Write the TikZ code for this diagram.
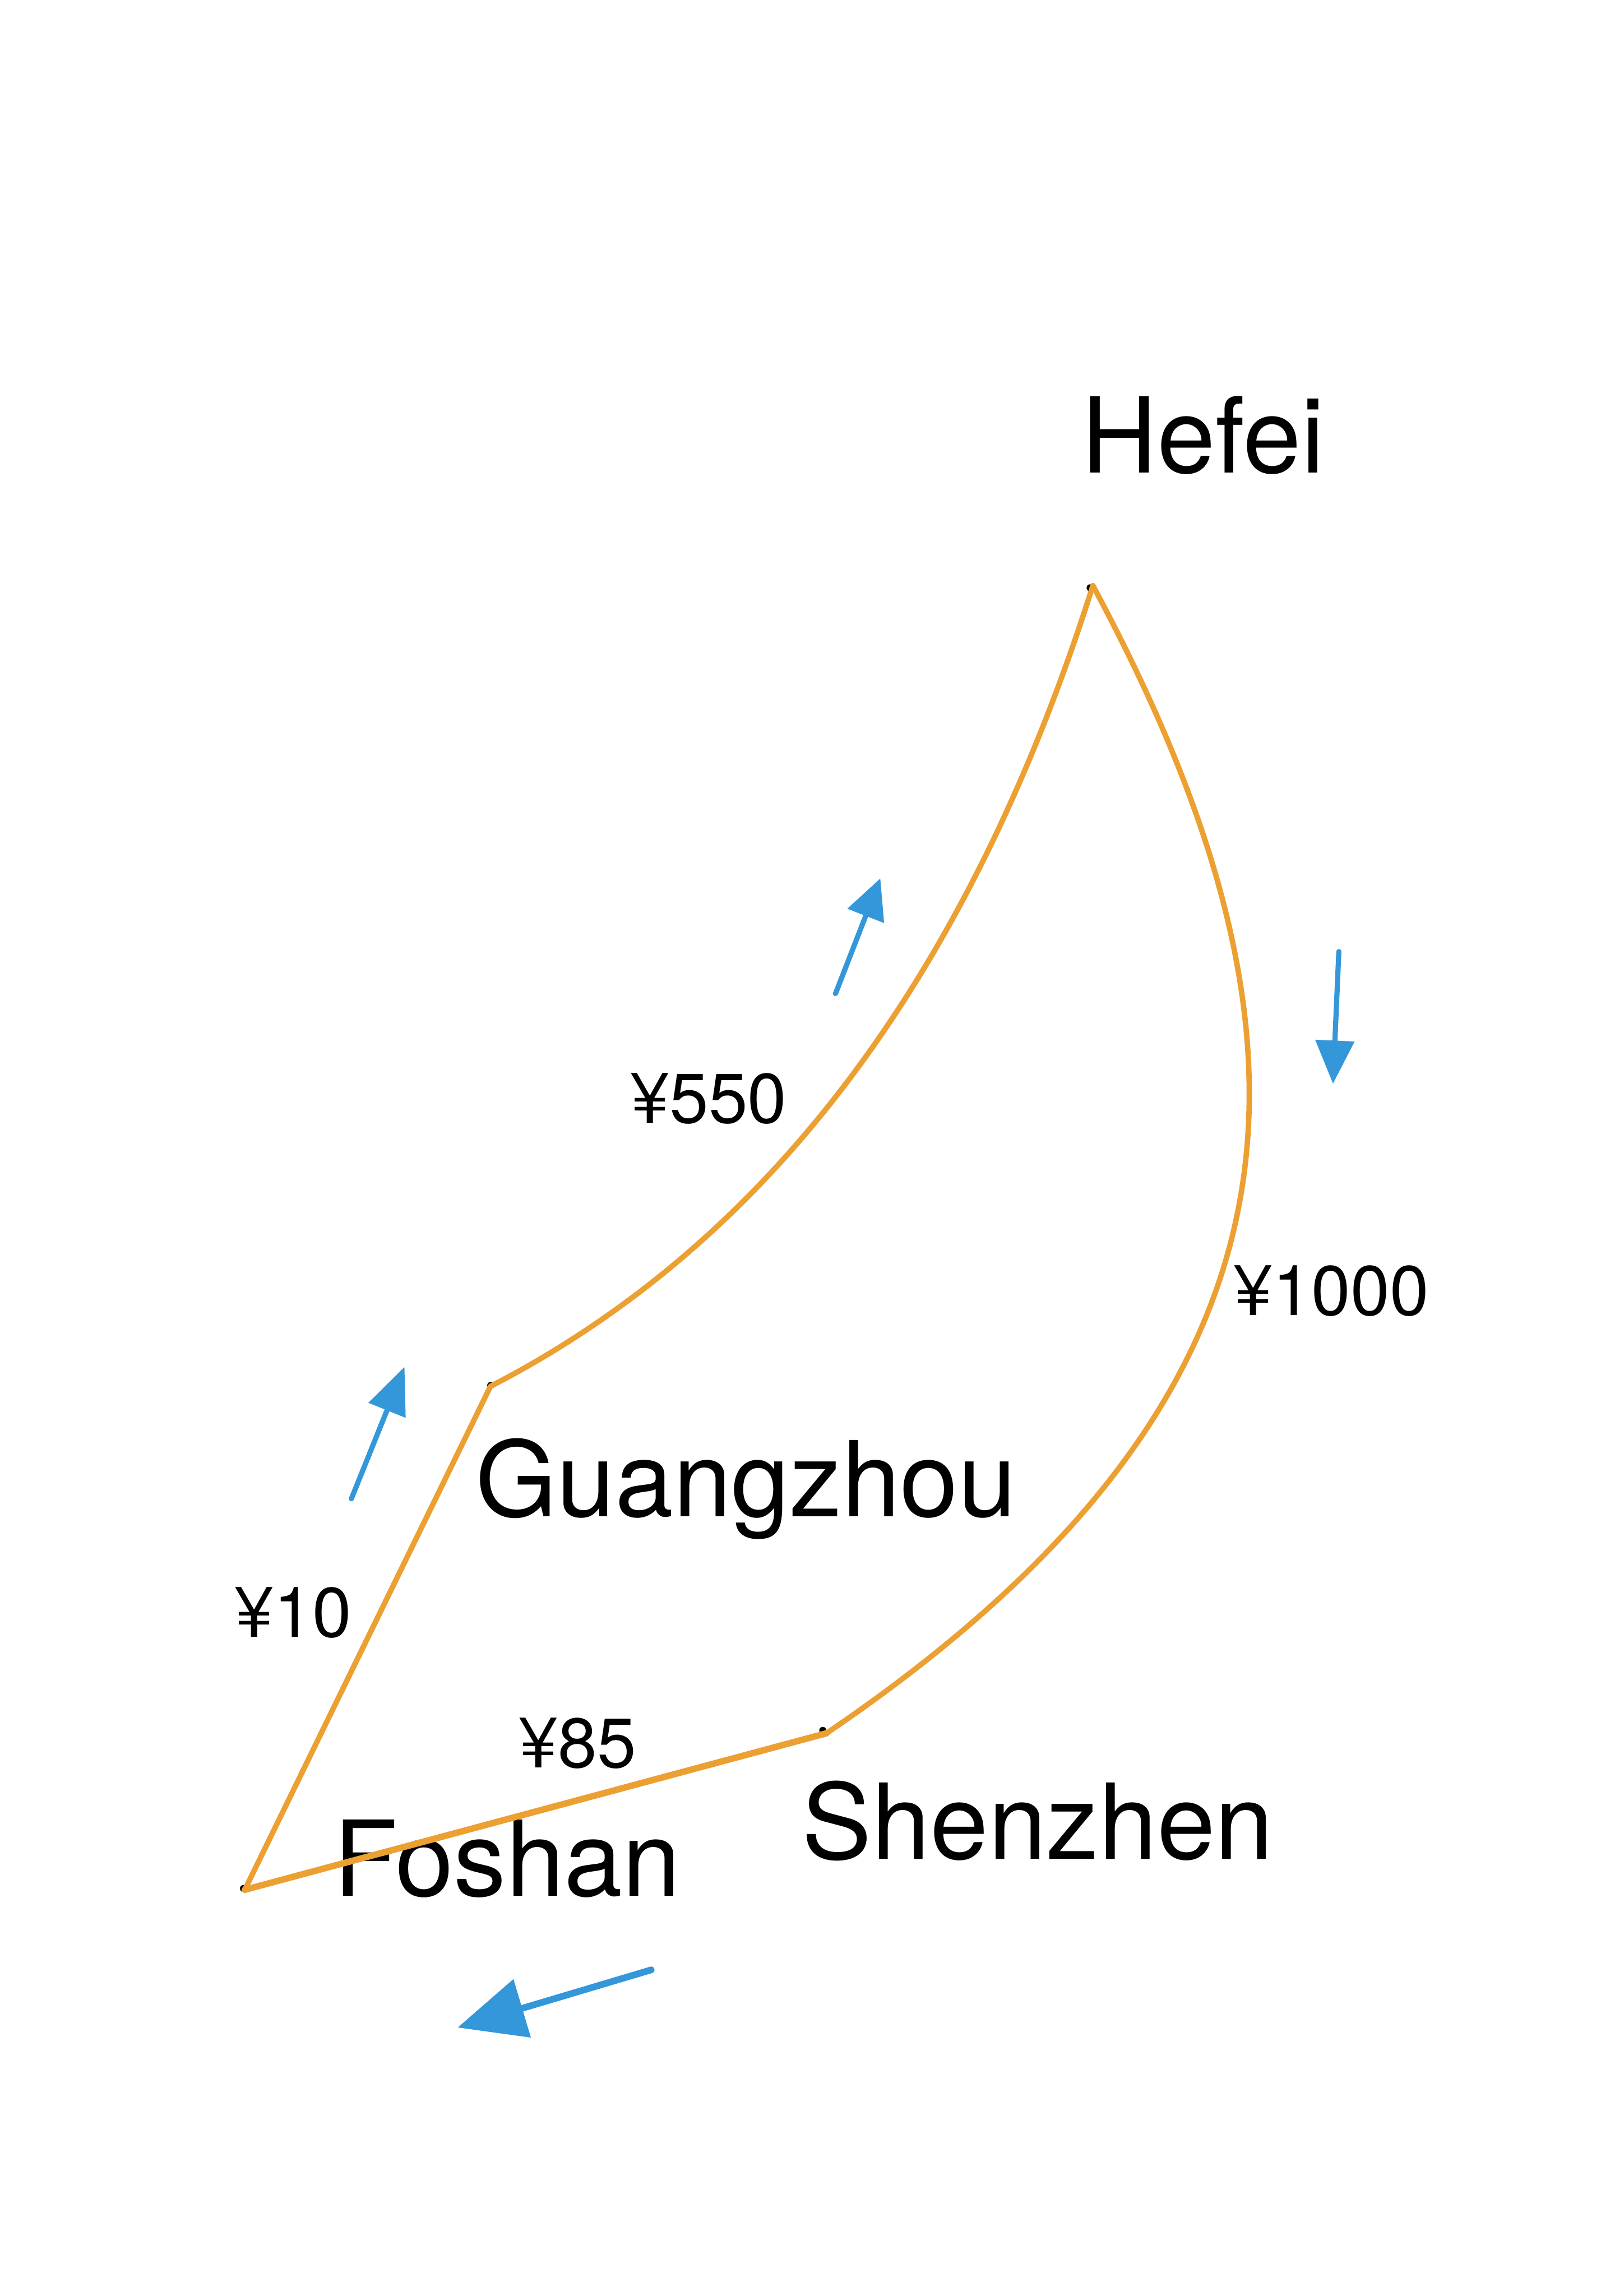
\documentclass[tikz,border=0pt]{standalone}
\usepackage{fontspec}
\setmainfont{TeX Gyre Heros}
\usetikzlibrary{arrows.meta}
\definecolor{routeorange}{RGB}{236,160,50}
\definecolor{flowblue}{RGB}{52,151,218}
\begin{document}
\begin{tikzpicture}[x=0.02cm,y=-0.02cm,
  city/.style={inner sep=0pt, anchor=base, font=\fontsize{40.7}{44}\selectfont},
  price/.style={inner sep=0pt, anchor=base, font=\fontsize{27.3}{30}\selectfont},
  route/.style={draw=routeorange, line width=2.1pt, line cap=round, line join=round},
  flow/.style={draw=flowblue, line width=2pt, line cap=round},
  vdot/.style={fill=black, draw=none}]
\useasboundingbox (0,0) rectangle (1109,1568.4);
% vertices
\coordinate (H) at (746.5,400);
\coordinate (G) at (335,947);
\coordinate (F) at (167.2,1290.9);
\coordinate (S) at (564.5,1184);
% labels
\node[city] (hefei) at (821.8,322.9) {Hefei};
\node[city] (guangzhou) at (509.6,1036) {Guangzhou};
\node[city] (shenzhen) at (708.9,1269.9) {Shenzhen};
\node[city] (foshan) at (346.5,1295.3) {Foshan};
\node[price] (p550) at (484,767.2) {¥550};
\node[price] (p1000) at (909.3,898.4) {¥1000};
\node[price] (p10) at (200.2,1118.1) {¥10};
\node[price] (p85) at (394.5,1207.6) {¥85};
% vertex dots
\fill[vdot] (744.6,401.5) circle[radius=2.4];
\fill[vdot] (335.2,946.3) circle[radius=2.4];
\fill[vdot] (562,1182) circle[radius=2.4];
\fill[vdot] (166.3,1290) circle[radius=2.4];
% routes
\draw[route] (G) .. controls (525,849) and (662.2,666.7) .. (H);
\draw[route] (H) .. controls (913,710) and (908,951) .. (S);
\draw[route] (G) -- (F);
\draw[route, line width=2.5pt] (F) -- (S);
% direction arrows
\coordinate (a1t) at (570.7,678.7); \coordinate (a1h) at (601.3,600);
\coordinate (a2t) at (914.5,650);   \coordinate (a2h) at (910.5,740.3);
\coordinate (a3t) at (240,1023.8);  \coordinate (a3h) at (276.3,933.7);
\coordinate (a4t) at (444.8,1345.6); \coordinate (a4h) at (312.6,1385);
\draw[flow, -{Triangle[length=5.5mm,width=5.2mm]}] (a1t) -- (a1h);
\draw[flow, -{Triangle[length=5.9mm,width=5.2mm]}] (a2t) -- (a2h);
\draw[flow, -{Triangle[length=6.4mm,width=5.3mm]}] (a3t) -- (a3h);
\draw[flow, line width=2.6pt, -{Triangle[length=9.2mm,width=8.1mm]}] (a4t) -- (a4h);
\end{tikzpicture}
\end{document}
